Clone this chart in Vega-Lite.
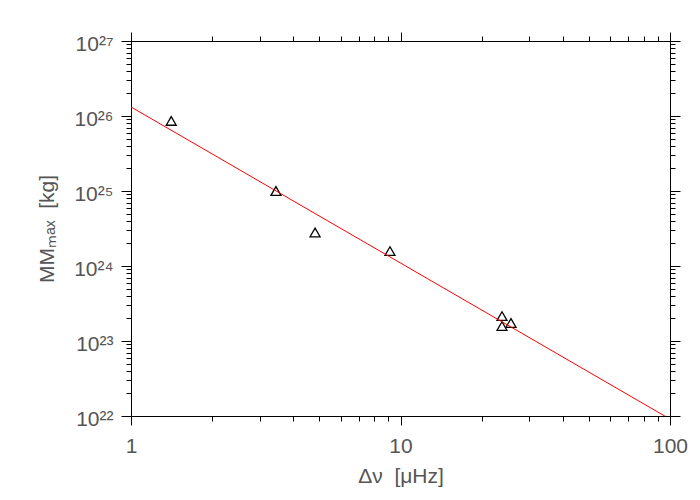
{
  "$schema": "https://vega.github.io/schema/vega-lite/v6.json",
  "width": 539,
  "height": 375,
  "autosize": "none",
  "padding": {"left": 131, "top": 41, "right": 30, "bottom": 84},
  "background": "white",
  "config": {
    "view": {"stroke": null},
    "axis": {
      "grid": false,
      "domainColor": "#000000",
      "domainWidth": 1,
      "tickColor": "#000000",
      "tickWidth": 1,
      "labelFont": "Liberation Sans",
      "labelFontSize": 21,
      "labelColor": "#555555",
      "titleFont": "Liberation Sans",
      "titleFontSize": 21,
      "titleFontWeight": "normal",
      "titleColor": "#555555",
      "labelOverlap": false,
      "labelFlush": false
    }
  },
  "datasets": {
    "pts": [
      {"dnu": 1.41, "mm": 8.6e25},
      {"dnu": 3.45, "mm": 1.0e25},
      {"dnu": 4.82, "mm": 2.8e24},
      {"dnu": 9.14, "mm": 1.58e24},
      {"dnu": 23.8, "mm": 2.15e23},
      {"dnu": 23.8, "mm": 1.58e23},
      {"dnu": 25.7, "mm": 1.74e23}
    ],
    "fit": [
      {"dnu": 1, "mm": 1.32e26},
      {"dnu": 100, "mm": 9.1e21}
    ]
  },
  "resolve": {"axis": {"x": "independent", "y": "independent"}},
  "layer": [
    {
      "data": {"name": "pts"},
      "mark": {"type": "point", "shape": "triangle-up", "filled": false, "stroke": "#000000", "strokeWidth": 1.3, "size": 100, "opacity": 1},
      "encoding": {
        "x": {
          "field": "dnu", "type": "quantitative",
          "scale": {"type": "log", "domain": [1, 100], "nice": false},
          "axis": {
            "orient": "bottom",
            "title": "Δν\u00a0\u00a0[μHz]",
            "titlePadding": 9,
            "values": [1,2,3,4,5,6,7,8,9,10,20,30,40,50,60,70,80,90,100],
            "tickSize": {"condition": {"test": "abs(log(datum.value)/LN10 - round(log(datum.value)/LN10)) < 0.001", "value": 9}, "value": 5},
            "labelPadding": 10,
            "labelExpr": "abs(log(datum.value)/LN10 - round(log(datum.value)/LN10)) < 0.001 ? format(datum.value, 'd') : ''"
          }
        },
        "y": {
          "field": "mm", "type": "quantitative",
          "scale": {"type": "log", "domain": [1e22, 1e27], "nice": false},
          "axis": {
            "orient": "left",
            "title": "MMₘₐₓ\u00a0\u00a0[kg]",
            "titlePadding": 16,
            "values": [1e22,2e22,3e22,4e22,5e22,6e22,7e22,8e22,9e22,1e23,2e23,3e23,4e23,5e23,6e23,7e23,8e23,9e23,1e24,2e24,3e24,4e24,5e24,6e24,7e24,8e24,9e24,1e25,2e25,3e25,4e25,5e25,6e25,7e25,8e25,9e25,1e26,2e26,3e26,4e26,5e26,6e26,7e26,8e26,9e26,1e27],
            "tickSize": {"condition": {"test": "abs(log(datum.value)/LN10 - round(log(datum.value)/LN10)) < 0.001", "value": 10}, "value": 5},
            "labelPadding": 8,
            "labelOffset": 3,
            "labelExpr": "abs(log(datum.value)/LN10 - round(log(datum.value)/LN10)) < 0.001 ? (round(log(datum.value)/LN10) == 22 ? '10²²' : round(log(datum.value)/LN10) == 23 ? '10²³' : round(log(datum.value)/LN10) == 24 ? '10²⁴' : round(log(datum.value)/LN10) == 25 ? '10²⁵' : round(log(datum.value)/LN10) == 26 ? '10²⁶' : '10²⁷') : ''"
          }
        }
      }
    },
    {
      "data": {"name": "fit"},
      "mark": {"type": "line", "color": "#ff0000", "strokeWidth": 1, "clip": true},
      "encoding": {
        "x": {
          "field": "dnu", "type": "quantitative",
          "scale": {"type": "log", "domain": [1, 100], "nice": false},
          "axis": {
            "orient": "top",
            "title": null,
            "labels": false,
            "values": [1,2,3,4,5,6,7,8,9,10,20,30,40,50,60,70,80,90,100],
            "tickSize": {"condition": {"test": "abs(log(datum.value)/LN10 - round(log(datum.value)/LN10)) < 0.001", "value": 9}, "value": 5}
          }
        },
        "y": {
          "field": "mm", "type": "quantitative",
          "scale": {"type": "log", "domain": [1e22, 1e27], "nice": false},
          "axis": {
            "orient": "right",
            "title": null,
            "labels": false,
            "values": [1e22,2e22,3e22,4e22,5e22,6e22,7e22,8e22,9e22,1e23,2e23,3e23,4e23,5e23,6e23,7e23,8e23,9e23,1e24,2e24,3e24,4e24,5e24,6e24,7e24,8e24,9e24,1e25,2e25,3e25,4e25,5e25,6e25,7e25,8e25,9e25,1e26,2e26,3e26,4e26,5e26,6e26,7e26,8e26,9e26,1e27],
            "tickSize": {"condition": {"test": "abs(log(datum.value)/LN10 - round(log(datum.value)/LN10)) < 0.001", "value": 10}, "value": 5}
          }
        }
      }
    }
  ]
}
